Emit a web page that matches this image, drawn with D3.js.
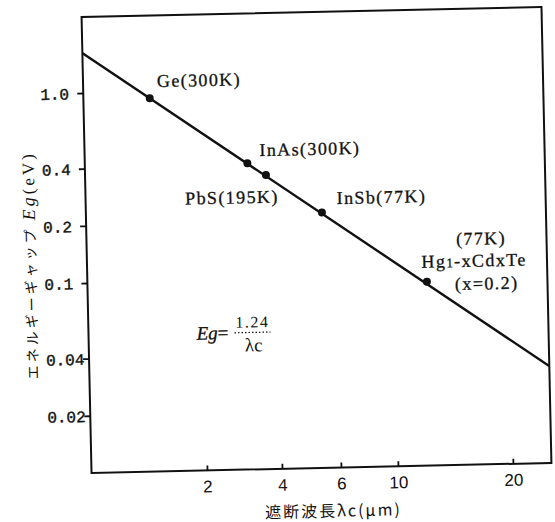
<!DOCTYPE html>
<html>
<head>
<meta charset="utf-8">
<script src="https://cdn.jsdelivr.net/npm/d3@7"></script>
<style>
  body { margin: 0; background: #fff; }
  svg { display: block; }
  .tick line { stroke: #111; }
</style>
</head>
<body>
<div id="chart"></div>
<script>
// data
const xTicks = [2, 4, 6, 10, 20];
const yTicks = [1.0, 0.4, 0.2, 0.1, 0.04, 0.02];
const yTickLabels = ["1.0", "0.4", "0.2", "0.1", "0.04", "0.02"];

const materials = ["Ge(300K)", "PbS(195K)", "InAs(300K)", "InSb(77K)", "Hg1-xCdxTe"];
const lambdaC   = [1.27, 3.09, 3.66, 5.47, 12.2];      // cut-off wavelength (um)
const bandGap   = [0.922, 0.409, 0.353, 0.221, 0.0929]; // Eg (eV)

// ends of the Eg = 1.24/lambda line where it meets the frame
const lineLambda = [0.689, 25.2];
const lineEg     = [1.62, 0.0324];

// 1. dimensions (the scan is tilted a little, so the whole chart is rotated)
const margin = {top: 12, left: 86.5},
      width = 460,
      height = 456,
      tilt = -1.25;

const svg = d3.select("#chart")
    .append("svg")
        .attr("width", 555)
        .attr("height", 522)
    .append("g")
        .attr("transform", `rotate(${tilt} ${margin.left + width / 2} ${margin.top + height / 2})`)
    .append("g")
        .attr("transform", `translate(${margin.left},${margin.top})`);

const ink = "#111";

// 2. scales - the printed x ticks are not evenly log spaced, so piecewise log
const x = d3.scaleLog()
    .domain(xTicks)
    .range([115.5, 190.5, 249.5, 306.5, 421.5]);

const y = d3.scaleLog()
    .domain([0.01, 2.51])
    .range([height, 0]);

// frame
svg.append("rect")
    .attr("width", width)
    .attr("height", height)
    .attr("fill", "none")
    .attr("stroke", ink)
    .attr("stroke-width", 2);

// y axis
const yAxis = svg.append("g")
    .call(d3.axisLeft(y).tickValues(yTicks).tickSize(6)
        .tickFormat((d, i) => yTickLabels[i]));
yAxis.select(".domain").remove();
yAxis.selectAll(".tick line").attr("stroke-width", 1.8);
yAxis.selectAll(".tick text")
    .attr("x", -43)
    .attr("dy", "0.35em")
    .style("text-anchor", "start")
    .style("font-family", "'Liberation Mono', monospace")
    .style("font-size", "16px")
    .style("fill", ink)
    .style("stroke", ink)
    .style("stroke-width", 0.4);

// x axis, ticks point inward
const xAxis = svg.append("g")
    .attr("transform", `translate(0,${height})`)
    .call(d3.axisBottom(x).tickValues(xTicks).tickSize(-5).tickFormat(d3.format("d")));
xAxis.select(".domain").remove();
xAxis.selectAll(".tick line").attr("stroke-width", 1.8);
xAxis.selectAll(".tick text")
    .attr("y", 22)
    .attr("dy", 0)
    .style("font-family", "'Liberation Sans', Arial, sans-serif")
    .style("font-size", "17px")
    .style("fill", ink);

// axis titles
svg.append("text")
    .attr("x", 241)
    .attr("y", height + 49)
    .style("text-anchor", "middle")
    .style("font-family", "'Noto Sans CJK JP', sans-serif")
    .style("font-size", "16px")
    .style("letter-spacing", "2px")
    .style("fill", ink)
    .text("遮断波長λc(μm)");

const yTitle = svg.append("text")
    .attr("transform", `translate(-56,247) rotate(-90)`)
    .attr("dy", "0.35em")
    .style("text-anchor", "middle")
    .style("font-family", "'Noto Sans CJK JP', sans-serif")
    .style("font-size", "14px")
    .style("letter-spacing", "3px")
    .style("fill", ink);
yTitle.append("tspan").text("エネルギーギャップ ");
yTitle.append("tspan")
    .style("font-family", "'Liberation Serif', serif")
    .style("font-style", "italic")
    .style("font-size", "18px")
    .text("Eg");
yTitle.append("tspan")
    .style("font-family", "'Liberation Serif', serif")
    .style("font-size", "17px")
    .text("(eV)");

// 3. the Eg line
svg.append("path")
    .datum(d3.zip(lineLambda, lineEg))
    .attr("fill", "none")
    .attr("stroke", ink)
    .attr("stroke-width", 2.4)
    .attr("d", d3.line().x(d => x(d[0])).y(d => y(d[1])));

// material points
const points = d3.zip(materials, lambdaC, bandGap);
svg.selectAll(".dot")
    .data(points)
    .enter()
    .append("circle")
        .attr("class", "dot")
        .attr("cx", d => x(d[1]))
        .attr("cy", d => y(d[2]))
        .attr("r", 4)
        .attr("fill", ink);

// labels, offset from their point
const labelOffset = {
    "Ge(300K)":   [7.5, -11],
    "PbS(195K)":  [-63, 40],
    "InAs(300K)": [-6, -19],
    "InSb(77K)":  [15, -8]
};
const labelFont = sel => sel
    .style("font-family", "'Liberation Serif', 'Times New Roman', serif")
    .style("font-size", "18px")
    .style("letter-spacing", "1.4px")
    .style("fill", ink)
    .style("stroke", ink)
    .style("stroke-width", 0.3);

svg.selectAll(".label")
    .data(points.filter(d => labelOffset[d[0]]))
    .enter()
    .append("text")
        .attr("class", "label")
        .attr("x", d => x(d[1]) + labelOffset[d[0]][0])
        .attr("y", d => y(d[2]) + labelOffset[d[0]][1])
        .call(labelFont)
        .text(d => d[0]);

// HgCdTe gets a three line note
const hg = points[4];
const hgx = x(hg[1]), hgy = y(hg[2]);
svg.append("text")
    .attr("x", hgx + 30).attr("y", hgy - 36)
    .call(labelFont)
    .text("(77K)");
const hgName = svg.append("text")
    .attr("x", hgx - 5).attr("y", hgy - 14)
    .call(labelFont);
hgName.append("tspan").text("Hg");
hgName.append("tspan").style("font-size", "13px").text("1");
hgName.append("tspan").text("-xCdxTe");
svg.append("text")
    .attr("x", hgx + 28).attr("y", hgy + 9)
    .call(labelFont)
    .text("(x=0.2)");

// formula Eg = 1.24 / lambda c
const f = svg.append("g").attr("transform", "translate(108,319)");
const fText = (sel) => sel
    .style("font-family", "'Liberation Serif', serif")
    .style("fill", ink);
f.append("text")
    .attr("y", 6)
    .call(fText)
    .style("font-size", "19px")
    .style("stroke", ink)
    .style("stroke-width", 0.3)
    .html('<tspan font-style="italic">Eg</tspan>=');
f.append("line")
    .attr("x1", 38).attr("x2", 74)
    .attr("stroke", ink)
    .attr("stroke-width", 1.2)
    .attr("stroke-dasharray", "1.5,2");
f.append("text")
    .attr("x", 56).attr("y", -5)
    .call(fText)
    .style("font-size", "16px")
    .style("letter-spacing", "1.5px")
    .style("text-anchor", "middle")
    .text("1.24");
f.append("text")
    .attr("x", 57).attr("y", 19)
    .call(fText)
    .style("font-size", "19px")
    .style("text-anchor", "middle")
    .text("λc");
</script>
</body>
</html>
